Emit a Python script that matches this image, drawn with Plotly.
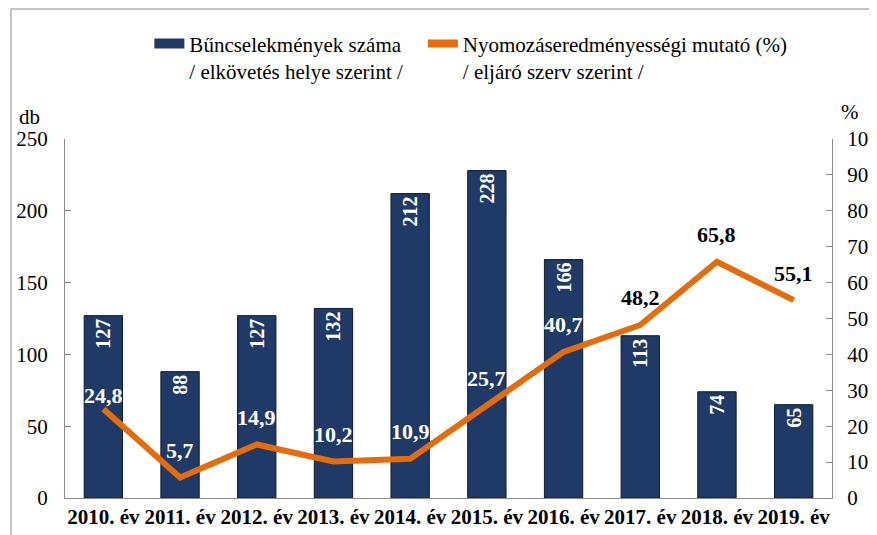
import plotly.graph_objects as go

years = ["2010. év", "2011. év", "2012. év", "2013. év", "2014. év",
         "2015. év", "2016. év", "2017. év", "2018. év", "2019. év"]
crimes = [127, 88, 127, 132, 212, 228, 166, 113, 74, 65]
rate = [24.8, 5.7, 14.9, 10.2, 10.9, 25.7, 40.7, 48.2, 65.8, 55.1]
rate_labels = ["24,8", "5,7", "14,9", "10,2", "10,9", "25,7", "40,7", "48,2", "65,8", "55,1"]
bar_name = "Bűncselekmények száma<br>/ elkövetés helye szerint /"
line_name = "Nyomozáseredményességi mutató (%)<br>/ eljáró szerv szerint /"

FONT = "Liberation Serif, Times New Roman, serif"
NAVY = "#1f3a66"
ORANGE = "#e46c0a"
AXIS = "#8c8c8c"

fig = go.Figure()
fig.add_trace(go.Bar(
    x=years, y=crimes, name=bar_name, showlegend=False,
    marker=dict(color=NAVY, line=dict(color="#0d1c36", width=1)),
    text=[str(v) for v in crimes], textposition="inside", insidetextanchor="end",
    textangle=-90, constraintext="none",
    textfont=dict(family=FONT, size=20, color="white", weight="bold"),
    yaxis="y",
))
fig.add_trace(go.Scatter(
    x=years, y=rate, name=line_name, showlegend=False,
    mode="lines", line=dict(color=ORANGE, width=6), yaxis="y2",
))
# legend entries (symbols styled like the reference key)
fig.add_trace(go.Scatter(x=[None], y=[None], mode="lines", name=bar_name,
                         line=dict(color=NAVY, width=10), legend="legend"))
fig.add_trace(go.Scatter(x=[None], y=[None], mode="lines", name=line_name,
                         line=dict(color=ORANGE, width=8), legend="legend2", yaxis="y2"))

for i, (yr, v, lab) in enumerate(zip(years, rate, rate_labels)):
    fig.add_annotation(
        x=yr, y=v, yref="y2", text=lab, showarrow=False,
        yshift=13 if i == 0 else 27,
        font=dict(family=FONT, size=22, color="white" if i < 7 else "black", weight="bold"),
    )

fig.add_annotation(xref="paper", yref="paper", x=-0.046, y=1.061, text="db", showarrow=False,
                   xanchor="center", yanchor="middle", font=dict(family=FONT, size=21, color="black"))
fig.add_annotation(xref="paper", yref="paper", x=1.024, y=1.075, text="%", showarrow=False,
                   xanchor="center", yanchor="middle", font=dict(family=FONT, size=21, color="black"))

# outer frame (left and top edges visible)
fig.add_shape(type="line", xref="paper", yref="paper", x0=-0.0704, x1=-0.0704, y0=-0.2, y1=1.362,
              line=dict(color="#b0b0b0", width=1.5))
fig.add_shape(type="line", xref="paper", yref="paper", x0=-0.0704, x1=1.2, y0=1.362, y1=1.362,
              line=dict(color="#b0b0b0", width=1.5))

legend_common = dict(orientation="h", xanchor="left", yanchor="top", valign="top",
                     font=dict(family=FONT, size=21, color="black"),
                     bgcolor="rgba(0,0,0,0)", itemwidth=30)

fig.update_layout(
    width=877, height=535,
    margin=dict(l=57, r=53, t=131, b=45, autoexpand=False),
    paper_bgcolor="white", plot_bgcolor="white",
    font=dict(family=FONT, size=21, color="black"),
    bargap=0.5,
    showlegend=True,
    legend=dict(x=0.11, y=1.322, **legend_common),
    legend2=dict(x=0.4665, y=1.322, **legend_common),
    xaxis=dict(showline=True, linecolor=AXIS, linewidth=1, ticks="", showgrid=False,
               tickangle=0, automargin=False,
               tickfont=dict(family=FONT, size=21, color="black", weight="bold")),
    yaxis=dict(range=[0, 250], dtick=50, showline=True, linecolor=AXIS, linewidth=1,
               ticks="inside", ticklen=6, tickcolor=AXIS, showgrid=False, zeroline=False,
               automargin=False,
               tickfont=dict(family=FONT, size=21, color="black"), ticklabelstandoff=12),
    yaxis2=dict(range=[0, 100], dtick=10, overlaying="y", side="right", showline=True,
                linecolor=AXIS, linewidth=1, ticks="inside", ticklen=6, tickcolor=AXIS,
                showgrid=False, zeroline=False, automargin=False,
                tickfont=dict(family=FONT, size=21, color="black"), ticklabelstandoff=10),
)

fig.write_html("out.html")
